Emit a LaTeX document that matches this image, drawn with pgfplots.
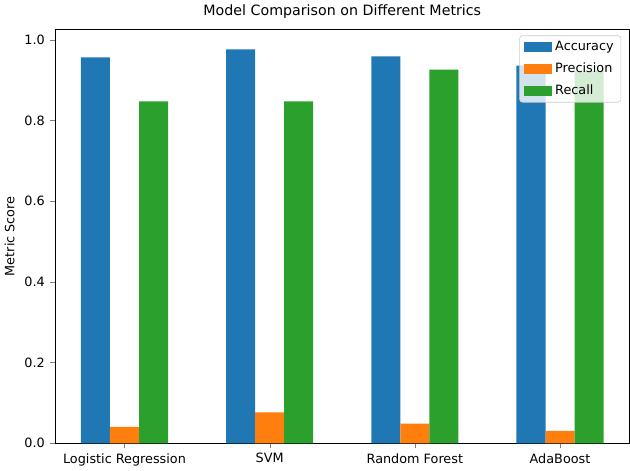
\documentclass[border=0pt]{standalone}
\usepackage{pgfplots}
\pgfplotsset{compat=1.18}
\usepackage{fontspec}
\setmainfont{DejaVu Sans}
\definecolor{c1}{HTML}{1F77B4}
\definecolor{c2}{HTML}{FF7F0E}
\definecolor{c3}{HTML}{2CA02C}
\begin{document}
\begin{tikzpicture}
\begin{axis}[
  scale only axis, width=404pt, height=291pt,
  xmin=-0.48, xmax=3.48, ymin=0, ymax=1.026,
  xtick={0,1,2,3},
  xticklabels={Logistic Regression,SVM,Random Forest,AdaBoost},
  ytick={0,0.2,0.4,0.6,0.8,1.0},
  yticklabel style={/pgf/number format/fixed,/pgf/number format/fixed zerofill,/pgf/number format/precision=1},
  /pgf/number format/assume math mode=true,
  tick label style={font=\small},
  label style={font=\small},
  tick align=outside, tick pos=left,
  major tick length=3.5pt,
  ylabel={Metric Score},
  title={Model Comparison on Different Metrics},
  title style={yshift=-2pt},
  ybar, bar width=0.2, bar shift=0pt,
  legend style={at={(0.985,0.985)}, anchor=north east, draw=black!20, fill=white, fill opacity=0.8, text opacity=1, rounded corners=2pt, font=\small, row sep=3pt},
  legend cell align=left,
  legend image code/.code={\fill[#1, sharp corners, fill opacity=1] (0pt,-3.5pt) rectangle (20pt,3.5pt);},
]
\addplot[fill=c1, draw=none] coordinates {(-0.2,0.956) (0.8,0.976) (1.8,0.959) (2.8,0.936)};
\addplot[fill=c2, draw=none] coordinates {(0,0.041) (1,0.077) (2,0.049) (3,0.031)};
\addplot[fill=c3, draw=none] coordinates {(0.2,0.847) (1.2,0.847) (2.2,0.926) (3.2,0.922)};
\legend{Accuracy,Precision,Recall}
\end{axis}
\end{tikzpicture}
\end{document}
